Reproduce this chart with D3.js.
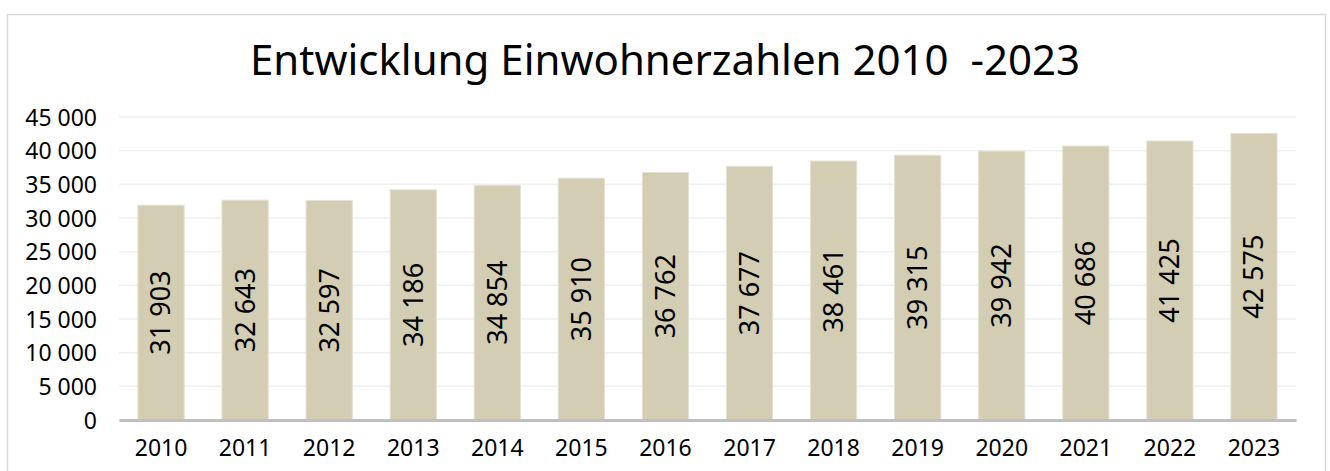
<!DOCTYPE html>
<html>
<head>
<meta charset="utf-8">
<script src="https://cdn.jsdelivr.net/npm/d3@7"></script>
<style>
  body { margin: 0; background: #fff; }
  text { font-family: "Noto Sans", sans-serif; fill: #000; }
</style>
</head>
<body>
<script>
var years = ["2010", "2011", "2012", "2013", "2014", "2015", "2016", "2017", "2018", "2019", "2020", "2021", "2022", "2023"];
var population = [31903, 32643, 32597, 34186, 34854, 35910, 36762, 37677, 38461, 39315, 39942, 40686, 41425, 42575];
var yTicks = [0, 5000, 10000, 15000, 20000, 25000, 30000, 35000, 40000, 45000];
var title = "Entwicklung Einwohnerzahlen 2010  -2023";

var W = 1330, H = 471;
var margin = {top: 117, right: 34, bottom: 51, left: 119}
  , width = W - margin.left - margin.right
  , height = H - margin.top - margin.bottom;

// thousands with a space, like "31 903"
var fmt = function (v) { return d3.format(",")(v).replace(/,/g, " "); };

var svg = d3.select("body").append("svg")
    .attr("width", W)
    .attr("height", H);

// chart frame
svg.append("rect")
    .attr("x", 7.5).attr("y", 14.5)
    .attr("width", 1318).attr("height", 480)
    .style("fill", "#fff")
    .style("stroke", "#d9d9d9")
    .style("stroke-width", 1.5);

svg.append("text")
    .attr("x", 665)
    .attr("y", 75)
    .attr("text-anchor", "middle")
    .style("font-size", "42px")
    .style("white-space", "pre")
    .text(title);

var g = svg.append("g")
    .attr("transform", "translate(" + margin.left + "," + margin.top + ")");

var xScale = d3.scaleBand()
    .domain(years)
    .range([0, width])
    .paddingInner(0.45)
    .paddingOuter(0.225);

var yScale = d3.scaleLinear()
    .domain([0, 45000])
    .range([height, 0]);

// gridlines
g.append("g")
    .selectAll("line")
    .data(yTicks.slice(1))
    .enter().append("line")
    .attr("x1", 0).attr("x2", width)
    .attr("y1", function (d) { return yScale(d); })
    .attr("y2", function (d) { return yScale(d); })
    .style("stroke", "#efefef")
    .style("stroke-width", 1.5);

// y axis labels
var yAxis = g.append("g")
    .call(d3.axisLeft(yScale).tickValues(yTicks).tickSize(0).tickPadding(22).tickFormat(fmt));
yAxis.select(".domain").remove();
yAxis.selectAll("text").style("font-size", "23px").attr("dy", "0.35em");

// bars
g.selectAll(".bar")
    .data(population)
    .enter().append("rect")
    .attr("class", "bar")
    .attr("x", function (d, i) { return xScale(years[i]); })
    .attr("y", function (d) { return yScale(d); })
    .attr("width", xScale.bandwidth())
    .attr("height", function (d) { return height - yScale(d); })
    .style("fill", "#d3cdb4")
    .style("stroke", "#e6e2d2")
    .style("stroke-width", 1);

// value labels, rotated, centred in the bar
g.selectAll(".val")
    .data(population)
    .enter().append("text")
    .attr("class", "val")
    .attr("text-anchor", "middle")
    .attr("dy", "0.35em")
    .attr("transform", function (d, i) {
        var cx = xScale(years[i]) + xScale.bandwidth() / 2;
        var cy = (yScale(d) + height) / 2;
        return "translate(" + cx + "," + cy + ")rotate(-90)";
    })
    .style("font-size", "27px")
    .text(fmt);

// x axis
var xAxis = g.append("g")
    .attr("transform", "translate(0," + height + ")")
    .call(d3.axisBottom(xScale).tickSize(0).tickPadding(20));
xAxis.select(".domain").style("stroke", "#bfbfbf").style("stroke-width", 3);
xAxis.selectAll("text").style("font-size", "23px");
</script>
</body>
</html>
